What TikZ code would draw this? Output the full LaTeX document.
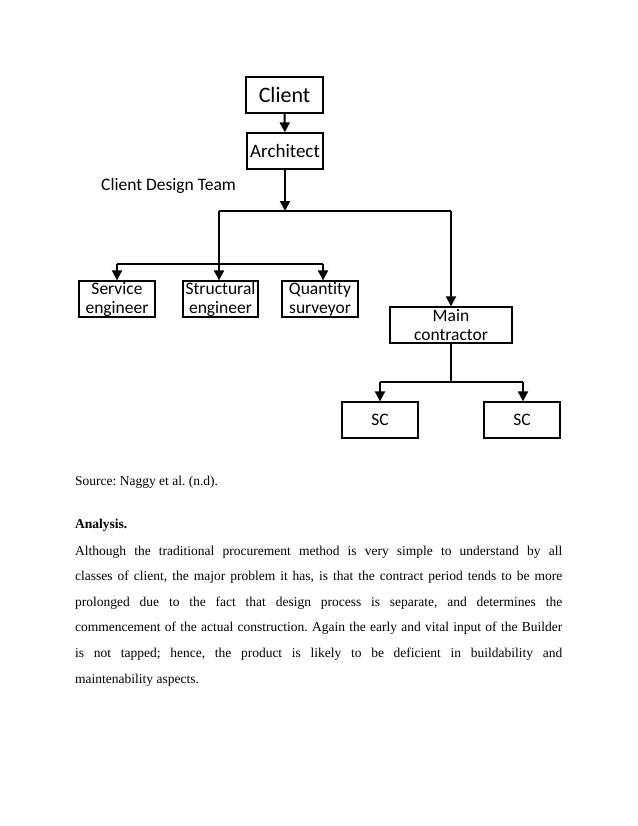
\documentclass[tikz,border=0pt]{standalone}
\usepackage{fontspec}
\setmainfont{Carlito}[Ligatures={NoCommon}]
\newfontfamily\bodyfam{Liberation Serif}
\usetikzlibrary{arrows.meta}
\newcommand{\bodyfont}{\bodyfam\frenchspacing\fontsize{13.5bp}{15bp}\selectfont}
\begin{document}
\begin{tikzpicture}[x=1bp,y=-1bp,
  box/.style={draw,line width=1.3bp,inner sep=0pt,align=center,minimum height=36bp,
    font=\fontsize{17.5bp}{19bp}\selectfont},
  conn/.style={line width=2bp},
  arr/.style={conn,-{Triangle[width=10bp,length=10bp]}},
  body/.style={anchor=base west,inner sep=0pt,font=\bodyfont}]
\useasboundingbox[fill=white] (0,0) rectangle (638,826);
% boxes
\node[box,minimum width=77bp,font=\fontsize{22bp}{24bp}\selectfont] (client) at (284.5,95) {Client};
\node[box,minimum width=76bp,font=\fontsize{19bp}{21bp}\selectfont] (arch) at (285,151) {Architect};
\node[box,minimum width=76bp] (serv) at (117,299) {Service\\engineer};
\node[box,minimum width=75bp] (struct) at (220.5,299) {Structural\\engineer};
\node[box,minimum width=76bp] (qs) at (320,299) {Quantity\\surveyor};
\node[box,minimum width=122bp] (main) at (451,325) {Main\\contractor};
\node[box,minimum width=76bp] (sc1) at (380,420) {SC};
\node[box,minimum width=76bp] (sc2) at (522,420) {SC};
\node[anchor=west,inner sep=0pt,font=\fontsize{17.5bp}{19bp}\selectfont] (cdt) at (101,186) {Client Design Team};
% junctions
\coordinate (j1) at (285,211);
\coordinate (jl) at (219,211);
\coordinate (jr) at (451,211);
\coordinate (k1) at (219,264);
\coordinate (kl) at (117,264);
\coordinate (kr) at (323,264);
\coordinate (m1) at (451,382);
\coordinate (ml) at (380,382);
\coordinate (mr) at (523,382);
% connectors
\draw[arr] (client) -- (arch);
\draw[arr] (arch) -- (j1);
\draw[conn] (jl) -- (jr);
\draw[arr] (jr) -- (main);
\draw[arr] (jl) -- (jl |- struct.north);
\draw[conn] (kl) -- (kr);
\draw[arr] (kl) -- (serv);
\draw[arr] (kr) -- (kr |- qs.north);
\draw[conn] (main) -- (m1);
\draw[conn] (ml) -- (mr);
\draw[arr] (ml) -- (sc1);
\draw[arr] (mr) -- (mr |- sc2.north);
% text
\node[body] (src) at (75,485) {Source: Naggy et al. (n.d).};
\node[body] (ana) at (75,528) {\bfseries Analysis.};
\node[body] (l1) at (75,555) {\makebox[487bp][s]{Although the traditional procurement method is very simple to understand by all}};
\node[body] (l2) at (75,580.6) {\makebox[487bp][s]{classes of client, the major problem it has, is that the contract period tends to be more}};
\node[body] (l3) at (75,606.2) {\makebox[487bp][s]{prolonged due to the fact that design process is separate, and determines the}};
\node[body] (l4) at (75,631.8) {\makebox[487bp][s]{commencement of the actual construction. Again the early and vital input of the Builder}};
\node[body] (l5) at (75,657.4) {\makebox[487bp][s]{is not tapped; hence, the product is likely to be deficient in buildability and}};
\node[body] (l6) at (75,683) {maintenability aspects.};
\end{tikzpicture}
\end{document}
